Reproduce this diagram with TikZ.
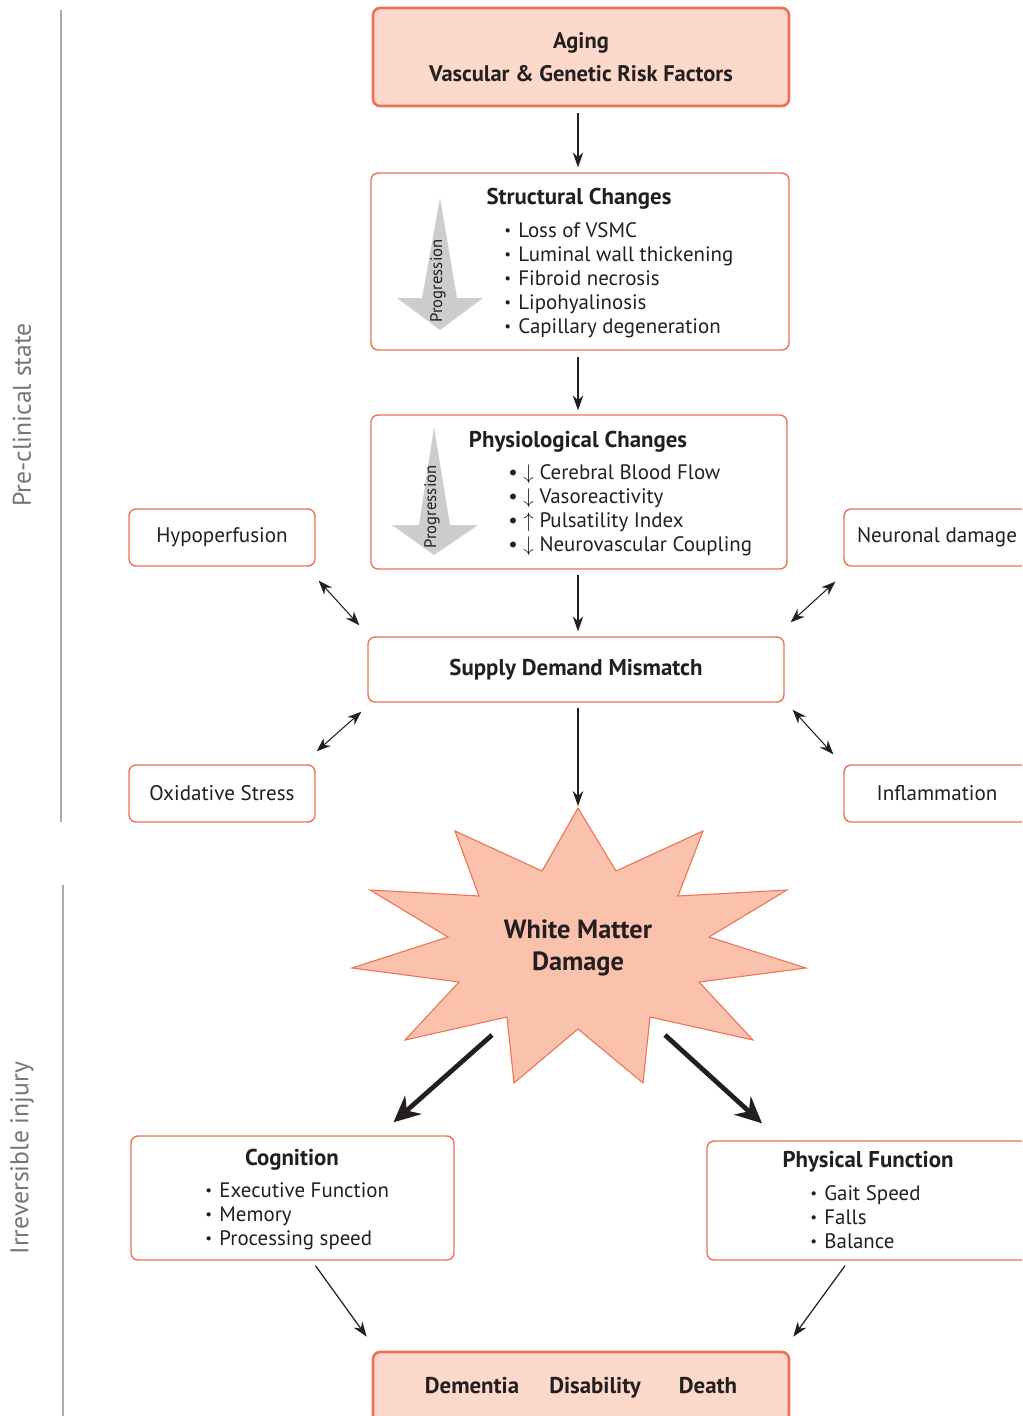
\documentclass[tikz,border=0pt]{standalone}
\usepackage{fontspec}
\setmainfont{PT Sans}
\usetikzlibrary{arrows.meta,positioning,calc}
\definecolor{boxorange}{RGB}{239,112,82}
\definecolor{peachfill}{RGB}{252,217,202}
\definecolor{burstfill}{RGB}{250,193,172}
\definecolor{progray}{RGB}{205,205,205}
\definecolor{sidegray}{RGB}{172,172,172}
\definecolor{labelgray}{RGB}{118,118,118}
\definecolor{textdark}{RGB}{35,31,32}
\newcommand{\smallbul}{\raisebox{0.2ex}{\fontsize{8.5}{8.5}\selectfont•}\hspace{0.35em}}

\begin{document}
\begin{tikzpicture}[
 x=0.02cm, y=-0.02cm,
 every node/.style={text=textdark},
 box/.style={rectangle, rounded corners=4pt, draw=boxorange, line width=0.8pt, fill=white, inner sep=0pt},
 keybox/.style={box, fill=peachfill, line width=1.5pt},
 small/.style={box, minimum width=3.72cm, minimum height=1.14cm, font=\fontsize{12}{13.66}\selectfont},
 title/.style={font=\fontsize{13}{15}\selectfont\bfseries, align=center, inner sep=0pt},
 list/.style={font=\fontsize{11.9}{13.66}\selectfont, align=left, anchor=north west, inner sep=0pt},
 side/.style={font=\fontsize{14.6}{17}\selectfont, text=labelgray, rotate=90},
 sideline/.style={draw=sidegray, line width=1.2pt},
 prog/.style={fill=progray, draw=none},
 progtext/.style={font=\fontsize{9.5}{11}\selectfont, rotate=90, inner sep=0pt},
 arrow/.style={-{Stealth[length=8.5pt,width=6pt]}, line width=0.7pt, color=textdark},
 dbl/.style={{Stealth[length=8pt,width=6pt]}-{Stealth[length=8pt,width=6pt]}, line width=0.6pt, color=textdark},
 bigarrow/.style={-{Stealth[length=15pt,width=14pt]}, line width=2.7pt, color=textdark},
 burst/.style={fill=burstfill, draw=boxorange, line width=0.6pt}
]
\path[use as bounding box, clip] (0,0) rectangle (1022,1416);

% Side bars
\draw[sideline] (61,10) -- (61,822);
\node[side] (pre) at (22,415) {Pre-clinical state};
\draw[sideline] (63,885) -- (63,1416);
\node[side] (irr) at (22,1158) {Irreversible injury};

% Main chain
\node[keybox, minimum width=8.32cm, minimum height=1.96cm, align=center,
 font=\fontsize{12.8}{15}\selectfont\bfseries] (aging) at (581,57) {Aging\\[4pt]Vascular \& Genetic Risk Factors};

\node[box, minimum width=8.36cm, minimum height=3.54cm] (struct) at (580,261.5) {};
\node[title] (structT) at (579,199) {Structural Changes};
\node[list] (structL) at (504,222) {\smallbul Loss of VSMC\\
 \smallbul Luminal wall thickening\\
 \smallbul Fibroid necrosis\\
 \smallbul Lipohyalinosis\\
 \smallbul Capillary degeneration};
\path[prog] (440,198) -- (457,298) -- (483,298) -- (440,330) -- (397,298) -- (422,298) -- cycle;
\node[progtext] (progA) at (438,281) {Progression};

\node[box, minimum width=8.32cm, minimum height=3.08cm] (physio) at (579,492) {};
\node[title] (physioT) at (578,442) {Physiological Changes};
\node[list] (physioL) at (508,464) {• $\downarrow$ Cerebral Blood Flow\\
 • $\downarrow$ Vasoreactivity\\
 • $\uparrow$ Pulsatility Index\\
 • $\downarrow$ Neurovascular Coupling};
\path[prog] (434,427) -- (450,525) -- (478,525) -- (434,555) -- (392,525) -- (419,525) -- cycle;
\node[progtext] (progB) at (432,507) {Progression};

\node[box, minimum width=8.32cm, minimum height=1.3cm, font=\fontsize{13}{15}\selectfont\bfseries] (sdm) at (576,669.5) {Supply Demand Mismatch};

% Contributing factors
\node[small] (hypo) at (222,537.5) {Hypoperfusion};
\node[small] (neur) at (937,537.5) {Neuronal damage};
\node[small] (oxid) at (222,793.5) {Oxidative Stress};
\node[small] (infl) at (937,793.5) {Inflammation};

% White matter damage
\filldraw[burst] (578,808) -- (616,871) -- (703,831) -- (678,896) -- (787,890) -- (709,937)
 -- (806,968) -- (699,982) -- (753,1040) -- (650,1017) -- (643,1083) -- (578,1029)
 -- (514,1083) -- (507,1017) -- (405,1040) -- (459,982) -- (352,968) -- (448,937)
 -- (370,890) -- (479,896) -- (455,831) -- (542,871) -- cycle;
\node[align=center, font=\fontsize{15}{18.2}\selectfont\bfseries] (wmd) at (578,948) {White Matter\\Damage};
\coordinate (burstN) at (578,808);
\coordinate (burstSW) at (492,1035);
\coordinate (burstSE) at (665,1035);

% Outcomes
\node[box, minimum width=6.46cm, minimum height=2.48cm] (cogn) at (292.5,1198) {};
\node[title] (cognT) at (292,1160) {Cognition};
\node[list] (cognL) at (205,1182) {\smallbul Executive Function\\
 \smallbul Memory\\
 \smallbul Processing speed};

\node[box, minimum width=6.44cm, minimum height=2.38cm] (phys) at (868,1200.5) {};
\node[title] (physT) at (868,1162) {Physical Function};
\node[list] (physL) at (810,1185) {\smallbul Gait Speed\\
 \smallbul Falls\\
 \smallbul Balance};

\node[keybox, minimum width=8.32cm, minimum height=1.4cm] (out) at (581,1387) {};
\node[title, anchor=base] (dem) at (472,1393) {Dementia};
\node[title, anchor=base] (dis) at (595,1393) {Disability};
\node[title, anchor=base] (dea) at (708,1393) {Death};

% Arrows
\draw[arrow, shorten <=0.12cm, shorten >=0.1cm] (aging.south -| burstN) -- (struct.north -| burstN);
\draw[arrow, shorten <=0.12cm, shorten >=0.08cm] (struct.south -| burstN) -- (physio.north -| burstN);
\draw[arrow, shorten <=0.1cm, shorten >=0.1cm] (physio.south -| burstN) -- (sdm.north -| burstN);
\draw[arrow, shorten <=0.1cm, shorten >=0.04cm] (sdm.south -| burstN) -- (burstN);

\draw[dbl] ([shift={(3,14)}]hypo.south east) -- ([shift={(-8,-11)}]sdm.north west);
\draw[dbl] ([shift={(-8,15)}]neur.south west) -- ([shift={(6,-14)}]sdm.north east);
\draw[dbl] ([shift={(-6,9)}]sdm.south west) -- ([shift={(1,-13)}]oxid.north east);
\draw[dbl] ([shift={(8,7)}]sdm.south east) -- ([shift={(-10,-10)}]infl.north west);

\draw[bigarrow] (burstSW) -- ([shift={(101,-13)}]cogn.north);
\draw[bigarrow] (burstSE) -- ([shift={(-106,-17)}]phys.north);

\draw[arrow] ([shift={(23,5)}]cogn.south) -- ([shift={(-5,-14)}]out.north west);
\draw[arrow] ([shift={(-23,5)}]phys.south) -- ([shift={(3,-14)}]out.north east);

\end{tikzpicture}
\end{document}
